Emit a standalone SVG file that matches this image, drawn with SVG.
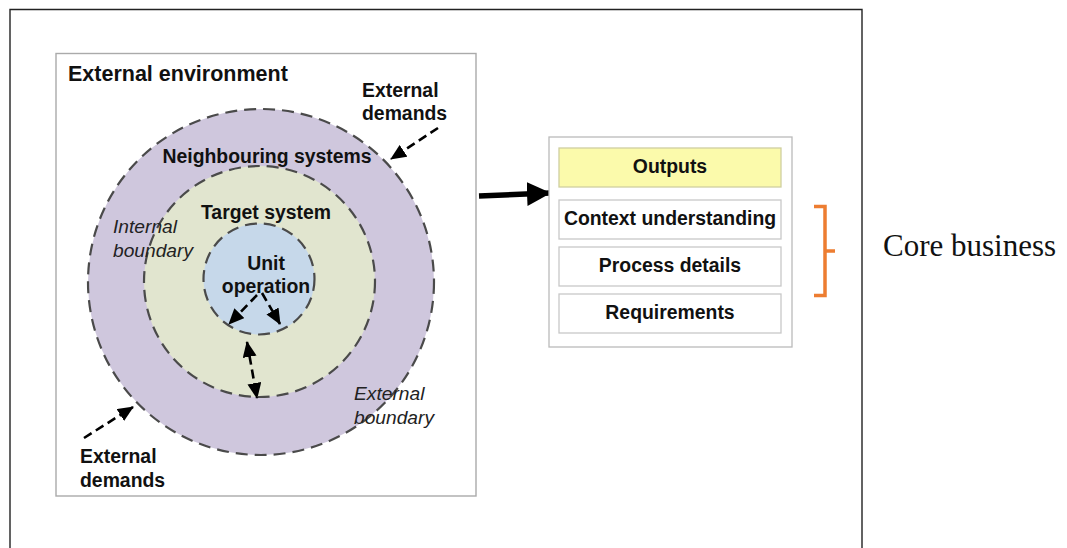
<svg xmlns="http://www.w3.org/2000/svg" width="1067" height="548" viewBox="0 0 1067 548">
<style>
.b{font-family:"Liberation Sans",Arial,sans-serif;font-weight:bold;font-size:19.4px;fill:#111}
.i{font-family:"Liberation Sans",Arial,sans-serif;font-style:italic;font-size:19.2px;fill:#222}
.c{text-anchor:middle}
.ring{stroke:#4a4a4a;stroke-width:2.2;stroke-dasharray:12 7}
.dash{fill:none;stroke:#000;stroke-width:2.6;stroke-dasharray:9 5}
.box{fill:#fff;stroke:#c8c8c8;stroke-width:1.3}
</style>
<defs>
<marker id="ah" viewBox="0 0 16 14" refX="15" refY="7" markerWidth="16" markerHeight="14" markerUnits="userSpaceOnUse" orient="auto-start-reverse">
<path d="M0,0 L16,7 L0,14 Z" fill="#000"/>
</marker>
<marker id="big" viewBox="0 0 24 24" refX="23" refY="12" markerWidth="24" markerHeight="24" markerUnits="userSpaceOnUse" orient="auto">
<path d="M0,0 L24,12 L0,24 Z" fill="#000"/>
</marker>
</defs>
<rect width="1067" height="548" fill="#fff"/>
<g id="frame">
<path d="M10,560 L10,9.5 L862,9.5 L862,560" fill="none" stroke="#222" stroke-width="1.4"/>
</g>
<g id="environment">
<rect x="56" y="53.5" width="420" height="442.5" fill="#fff" stroke="#aaa" stroke-width="1.4"/>
<text class="b" x="68" y="81" style="font-size:21.5px">External environment</text>
</g>
<g id="neighbouring">
<circle cx="261" cy="282" r="173" fill="#cfc7dd" class="ring"/>
<text class="b c" x="267" y="163">Neighbouring systems</text>
</g>
<g id="target">
<circle cx="259.5" cy="281.5" r="115.5" fill="#e1e5cf" class="ring"/>
<text class="b c" x="266" y="219">Target system</text>
</g>
<g id="unit">
<circle cx="259" cy="279" r="55.5" fill="#c6d8ea" class="ring"/>
<text class="b c" x="266" y="270">Unit</text>
<text class="b c" x="266" y="293">operation</text>
</g>
<g id="labels">
<text class="i" x="113" y="233">Internal</text>
<text class="i" x="113" y="257">boundary</text>
<text class="i" x="354" y="400">External</text>
<text class="i" x="354" y="424">boundary</text>
<text class="b" x="362" y="97">External</text>
<text class="b" x="362" y="120">demands</text>
<text class="b" x="80" y="463">External</text>
<text class="b" x="80" y="487">demands</text>
</g>
<g id="connectors">
<path class="dash" d="M438,128 L391,159" marker-end="url(#ah)"/>
<path class="dash" d="M84,438 L133,407" marker-end="url(#ah)"/>
<path class="dash" d="M257,295 L229,324" marker-end="url(#ah)"/>
<path class="dash" d="M262,293 L280,324" marker-end="url(#ah)"/>
<path class="dash" d="M247,342 L257,398" marker-start="url(#ah)" marker-end="url(#ah)"/>
<path d="M479,196 L550,193" stroke="#000" stroke-width="5.5" fill="none" marker-end="url(#big)"/>
</g>
<g id="panel">
<rect x="549" y="137" width="243" height="210" fill="#fff" stroke="#bbb" stroke-width="1.3"/>
</g>
<g id="outputs">
<rect x="559" y="148" width="222" height="39" fill="#fbfaab" stroke="#cfcfa0" stroke-width="1.3"/>
<text class="b c" x="670" y="173">Outputs</text>
</g>
<g id="context">
<rect x="559" y="200" width="222" height="39" class="box"/>
<text class="b c" x="670" y="225">Context understanding</text>
</g>
<g id="process">
<rect x="559" y="247" width="222" height="39" class="box"/>
<text class="b c" x="670" y="272">Process details</text>
</g>
<g id="requirements">
<rect x="559" y="294" width="222" height="39" class="box"/>
<text class="b c" x="670" y="319">Requirements</text>
</g>
<g id="core">
<path d="M814,206.5 L825,206.5 L825,295.5 L814,295.5 M825,251 L835,251" fill="none" stroke="#ed7d31" stroke-width="3.5"/>
<text x="883" y="256" style="font-family:'Liberation Serif','Times New Roman',serif;font-size:31px;fill:#111">Core business</text>
</g>
</svg>
